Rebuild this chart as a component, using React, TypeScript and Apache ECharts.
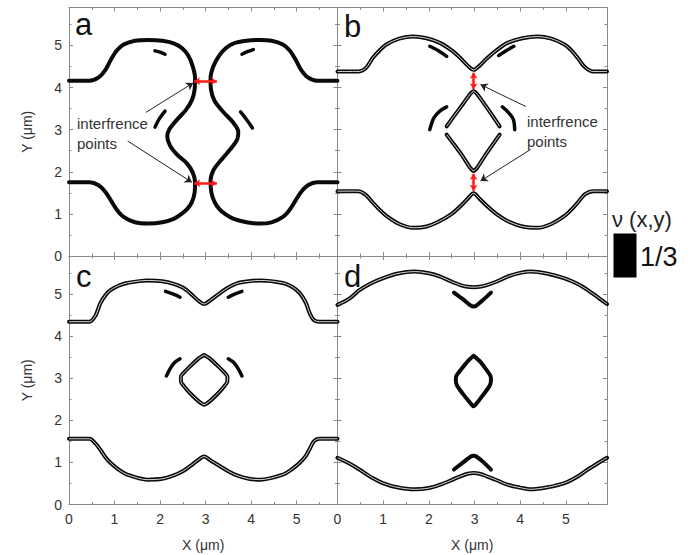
import React, { useEffect, useRef } from "react";
import * as echarts from "echarts";

// ---------- data (µm) ----------
const X_TICKS = [0, 1, 2, 3, 4, 5];
const Y_TICKS = [0, 1, 2, 3, 4, 5];
const PANEL_LABELS = ["a", "b", "c", "d"];

// panel a
const A_LEFT = [
  [0, 4.16], [0.45, 4.16], [0.65, 4.24], [0.8, 4.42], [0.92, 4.66], [1.05, 4.88], [1.2, 5.02], [1.45, 5.11],
  [1.75, 5.13], [2.05, 5.11], [2.3, 5.05], [2.48, 4.94], [2.62, 4.76], [2.72, 4.5], [2.77, 4.22], [2.76, 3.95],
  [2.7, 3.7], [2.57, 3.47], [2.36, 3.22], [2.2, 3.0], [2.16, 2.84], [2.22, 2.62], [2.38, 2.4], [2.59, 2.2],
  [2.72, 1.98], [2.77, 1.75], [2.76, 1.5], [2.7, 1.28], [2.6, 1.12], [2.45, 0.98], [2.3, 0.88], [2.05, 0.8],
  [1.75, 0.77], [1.45, 0.8], [1.2, 0.93], [1.05, 1.1], [0.92, 1.32], [0.8, 1.52], [0.65, 1.68], [0.45, 1.75], [0, 1.75],
];
const A_RIGHT = [
  [5.9, 4.16], [5.45, 4.16], [5.25, 4.24], [5.1, 4.42], [4.98, 4.66], [4.85, 4.88], [4.7, 5.02], [4.45, 5.11],
  [4.2, 5.13], [3.9, 5.11], [3.62, 5.05], [3.45, 4.94], [3.3, 4.76], [3.17, 4.5], [3.11, 4.22], [3.12, 3.95],
  [3.2, 3.68], [3.39, 3.42], [3.6, 3.18], [3.72, 2.95], [3.7, 2.78], [3.58, 2.58], [3.36, 2.3], [3.18, 2.05],
  [3.11, 1.78], [3.13, 1.5], [3.2, 1.28], [3.3, 1.12], [3.45, 0.98], [3.62, 0.88], [3.9, 0.8], [4.2, 0.77],
  [4.45, 0.8], [4.7, 0.93], [4.85, 1.1], [4.98, 1.32], [5.1, 1.52], [5.25, 1.68], [5.45, 1.75], [5.9, 1.75],
];
const A_DASHES = [
  [[1.89, 4.87], [2.0, 4.84], [2.11, 4.79]],
  [[3.8, 4.79], [3.92, 4.85], [4.05, 4.9]],
  [[1.89, 3.06], [1.98, 3.25], [2.11, 3.44]],
  [[3.77, 3.42], [3.9, 3.24], [4.03, 3.04]],
];
const A_RED = [
  [[2.75, 4.15], [3.25, 4.15]],
  [[2.75, 1.73], [3.25, 1.73]],
];
const A_POINTERS = [
  [[1.69, 3.41], [2.73, 4.11]],
  [[1.29, 2.73], [2.7, 1.75]],
];

// panel b
const B_TOP = [
  [0, 4.38], [0.45, 4.38], [0.62, 4.46], [0.77, 4.7], [0.92, 4.88], [1.07, 5.02], [1.35, 5.16], [1.66, 5.21],
  [1.95, 5.17], [2.24, 5.06], [2.5, 4.88], [2.69, 4.7], [2.85, 4.52], [2.98, 4.42], [3.11, 4.52], [3.28, 4.7],
  [3.5, 4.9], [3.72, 5.06], [4.05, 5.17], [4.38, 5.21], [4.68, 5.16], [4.97, 5.02], [5.12, 4.88], [5.26, 4.7],
  [5.42, 4.48], [5.6, 4.38], [5.9, 4.38],
];
const B_BOT = [
  [0, 1.54], [0.45, 1.54], [0.62, 1.45], [0.77, 1.27], [0.92, 1.1], [1.07, 0.95], [1.35, 0.76], [1.66, 0.67],
  [1.95, 0.7], [2.24, 0.83], [2.5, 1.0], [2.69, 1.18], [2.85, 1.36], [2.98, 1.49], [3.11, 1.36], [3.28, 1.18],
  [3.5, 0.98], [3.72, 0.83], [4.05, 0.7], [4.38, 0.67], [4.68, 0.76], [4.97, 0.95], [5.12, 1.1], [5.26, 1.27],
  [5.42, 1.47], [5.6, 1.54], [5.9, 1.54],
];
const B_DIAMOND_UP = [
  [2.39, 3.08], [2.55, 3.32], [2.72, 3.57], [2.9, 3.84], [2.98, 3.91], [3.06, 3.84], [3.24, 3.57], [3.4, 3.32], [3.55, 3.08],
];
const B_DIAMOND_DN = [
  [2.39, 2.88], [2.55, 2.65], [2.72, 2.4], [2.9, 2.1], [2.98, 2.02], [3.06, 2.1], [3.24, 2.4], [3.4, 2.65], [3.55, 2.88],
];
const B_DASHES = [
  [[2.02, 3.0], [2.11, 3.28], [2.24, 3.44], [2.39, 3.54]],
  [[3.61, 3.54], [3.75, 3.4], [3.85, 3.24], [3.88, 3.0]],
  [[2.02, 4.98], [2.2, 4.88], [2.39, 4.74]],
  [[3.53, 4.76], [3.7, 4.88], [3.86, 4.98]],
];
const B_RED = [
  [[2.98, 4.35], [2.98, 3.96]],
  [[2.98, 1.95], [2.98, 1.55]],
];
const B_POINTERS = [
  [[4.12, 3.55], [3.13, 4.07]],
  [[4.23, 2.53], [3.13, 1.78]],
];

// panel c
const C_TOP = [
  [0, 4.34], [0.45, 4.34], [0.58, 4.48], [0.69, 4.78], [0.8, 4.97], [0.91, 5.09], [1.1, 5.2], [1.28, 5.26],
  [1.72, 5.32], [2.05, 5.3], [2.3, 5.24], [2.5, 5.15], [2.66, 5.02], [2.82, 4.86], [2.97, 4.76], [3.12, 4.86],
  [3.32, 5.02], [3.5, 5.15], [3.69, 5.25], [3.95, 5.3], [4.2, 5.32], [4.7, 5.26], [4.9, 5.17], [5.07, 5.02],
  [5.2, 4.8], [5.29, 4.54], [5.38, 4.38], [5.5, 4.34], [5.9, 4.34],
];
const C_BOT = [
  [0, 1.56], [0.45, 1.56], [0.58, 1.45], [0.69, 1.3], [0.8, 1.12], [0.91, 0.99], [1.1, 0.82], [1.28, 0.71],
  [1.72, 0.59], [2.05, 0.61], [2.3, 0.69], [2.5, 0.79], [2.66, 0.91], [2.82, 1.04], [2.97, 1.14], [3.12, 1.04],
  [3.32, 0.91], [3.5, 0.79], [3.69, 0.69], [3.95, 0.61], [4.2, 0.59], [4.7, 0.71], [4.9, 0.84], [5.07, 0.99],
  [5.2, 1.15], [5.29, 1.32], [5.38, 1.5], [5.5, 1.56], [5.9, 1.56],
];
const C_DIAMOND = [
  [2.97, 3.55], [2.85, 3.47], [2.7, 3.32], [2.55, 3.16], [2.46, 3.04], [2.46, 2.92], [2.55, 2.78], [2.7, 2.6],
  [2.85, 2.45], [2.97, 2.37], [3.09, 2.45], [3.24, 2.6], [3.39, 2.78], [3.48, 2.92], [3.48, 3.04], [3.39, 3.16],
  [3.24, 3.32], [3.09, 3.47], [2.97, 3.55],
];
const C_DASHES = [
  [[2.14, 3.05], [2.22, 3.22], [2.32, 3.37], [2.44, 3.46]],
  [[3.5, 3.46], [3.62, 3.37], [3.72, 3.22], [3.8, 3.05]],
  [[2.12, 5.06], [2.28, 5.0], [2.44, 4.92]],
  [[3.5, 4.92], [3.65, 5.0], [3.8, 5.06]],
];

// panel d
const D_TOP = [
  [0, 4.74], [0.25, 4.88], [0.48, 5.09], [0.75, 5.26], [0.99, 5.37], [1.3, 5.48], [1.69, 5.53], [2.0, 5.49],
  [2.25, 5.41], [2.5, 5.29], [2.69, 5.21], [2.85, 5.17], [2.98, 5.16], [3.11, 5.17], [3.27, 5.21], [3.5, 5.3],
  [3.72, 5.41], [4.0, 5.5], [4.23, 5.53], [4.6, 5.48], [4.97, 5.37], [5.25, 5.24], [5.48, 5.09], [5.7, 4.92], [5.9, 4.76],
];
const D_BOT = [
  [0, 1.11], [0.25, 0.98], [0.48, 0.83], [0.75, 0.64], [0.99, 0.51], [1.3, 0.41], [1.69, 0.36], [2.0, 0.39],
  [2.25, 0.47], [2.5, 0.58], [2.69, 0.67], [2.85, 0.73], [2.98, 0.75], [3.11, 0.73], [3.27, 0.67], [3.5, 0.57],
  [3.72, 0.47], [4.0, 0.4], [4.23, 0.36], [4.6, 0.41], [4.97, 0.51], [5.25, 0.66], [5.48, 0.83], [5.7, 0.98], [5.9, 1.11],
];
const D_V = [[2.55, 5.03], [2.75, 4.87], [2.92, 4.72], [2.98, 4.7], [3.04, 4.72], [3.2, 4.87], [3.36, 5.03]];
const D_OVAL = [
  [2.98, 3.53], [2.85, 3.4], [2.7, 3.2], [2.6, 3.05], [2.59, 2.95], [2.62, 2.82], [2.75, 2.62], [2.9, 2.42],
  [2.98, 2.33], [3.06, 2.42], [3.2, 2.62], [3.33, 2.82], [3.36, 2.95], [3.35, 3.05], [3.26, 3.2], [3.12, 3.4], [2.98, 3.53],
];
const D_A = [[2.55, 0.83], [2.75, 1.0], [2.92, 1.14], [2.98, 1.16], [3.04, 1.14], [3.2, 1.0], [3.36, 0.83]];

// ---------- layout ----------
const X_MAX = 5.9;
const Y_MAX = 5.9;
const FONT = "'Liberation Sans', Arial, Helvetica, sans-serif";
const FRAME = "#8a8a8a";
const GRIDS = [
  { left: 69, top: 7.5, width: 268.5, height: 248.5 },
  { left: 337.5, top: 7.5, width: 269.5, height: 248.5 },
  { left: 69, top: 256, width: 268.5, height: 248.5 },
  { left: 337.5, top: 256, width: 269.5, height: 248.5 },
];

function axisBase(max: number, showLabel: boolean) {
  return {
    type: "value",
    min: 0,
    max,
    interval: 1,
    axisLine: { show: true, onZero: false, lineStyle: { color: FRAME, width: 1 } },
    axisTick: { show: true, inside: true, length: 4, lineStyle: { color: FRAME } },
    minorTick: { show: true, splitNumber: 2, length: 2.5, lineStyle: { color: FRAME } },
    splitLine: { show: false },
    minorSplitLine: { show: false },
    axisLabel: {
      show: showLabel,
      color: "#333",
      fontSize: 14,
      fontFamily: FONT,
      showMaxLabel: false,
      margin: 7,
      formatter: (v: number) => (X_TICKS.includes(v) || Y_TICKS.includes(v) ? String(v) : ""),
    },
  };
}

export default function App() {
  const ref = useRef<HTMLDivElement>(null);
  useEffect(() => {
    if (!ref.current) return;
    const chart = echarts.init(ref.current, undefined, { renderer: "svg" });

    const xAxis: any[] = [];
    const yAxis: any[] = [];
    GRIDS.forEach((_, g) => {
      const bottomLabels = g >= 2;
      const leftLabels = g % 2 === 0;
      xAxis.push({
        ...axisBase(X_MAX, bottomLabels),
        gridIndex: g,
        position: "bottom",
        name: bottomLabels ? "X (\u03bcm)" : "",
        nameLocation: "middle",
        nameGap: 33,
        nameTextStyle: { color: "#333", fontSize: 14, fontFamily: FONT },
      });
      xAxis.push({ ...axisBase(X_MAX, false), gridIndex: g, position: "top" });
      yAxis.push({
        ...axisBase(Y_MAX, leftLabels),
        gridIndex: g,
        position: "left",
        name: leftLabels ? "Y (\u03bcm)" : "",
        nameLocation: "middle",
        nameGap: 35,
        nameRotate: 90,
        nameTextStyle: { color: "#333", fontSize: 14, fontFamily: FONT },
      });
      yAxis.push({ ...axisBase(Y_MAX, false), gridIndex: g, position: "right" });
    });

    const series: any[] = [];
    const curve = (g: number, data: number[][], hollow: boolean, width = 4, smooth: number | boolean = 0.3) => {
      series.push({
        type: "line",
        xAxisIndex: g * 2,
        yAxisIndex: g * 2,
        data,
        smooth,
        symbol: "none",
        silent: true,
        z: 2,
        lineStyle: { color: "#0a0a0a", width, cap: "round", join: "round" },
      });
      if (hollow) {
        series.push({
          type: "line",
          xAxisIndex: g * 2,
          yAxisIndex: g * 2,
          data,
          smooth,
          symbol: "none",
          silent: true,
          z: 3,
          lineStyle: { color: "#ffffff", width: 1, opacity: 0.85 },
        });
      }
    };
    const arrows = (g: number, segs: number[][][], color: string, width: number, sym: string[], size: number) => {
      series.push({
        type: "lines",
        coordinateSystem: "cartesian2d",
        xAxisIndex: g * 2,
        yAxisIndex: g * 2,
        symbol: sym,
        symbolSize: size,
        silent: true,
        z: 5,
        lineStyle: { color, width, opacity: 1, curveness: 0 },
        data: segs.map((s) => ({ coords: s })),
      });
    };

    // a
    curve(0, A_LEFT, false);
    curve(0, A_RIGHT, false);
    A_DASHES.forEach((d) => curve(0, d, false, 3.5));
    arrows(0, A_RED, "#ff1a1a", 2.5, ["arrow", "arrow"], 6);
    arrows(0, A_POINTERS, "#222", 1, ["none", "arrow"], 7);
    // b
    curve(1, B_TOP, true);
    curve(1, B_BOT, true);
    curve(1, B_DIAMOND_UP, true, 4, 0.15);
    curve(1, B_DIAMOND_DN, true, 4, 0.15);
    B_DASHES.forEach((d) => curve(1, d, false, 3.5));
    arrows(1, B_RED, "#ff1a1a", 2.5, ["arrow", "arrow"], 6);
    arrows(1, B_POINTERS, "#222", 1, ["none", "arrow"], 7);
    // c
    curve(2, C_TOP, true);
    curve(2, C_BOT, true);
    curve(2, C_DIAMOND, true, 4, 0.2);
    C_DASHES.forEach((d) => curve(2, d, false, 3.5));
    // d
    curve(3, D_TOP, true);
    curve(3, D_BOT, true);
    curve(3, D_V, false, 4, 0.2);
    curve(3, D_OVAL, false, 4, 0.25);
    curve(3, D_A, false, 4, 0.2);

    const letterPos = [
      [75, 24],
      [344, 26],
      [76, 276],
      [344, 276],
    ];
    const graphic: any[] = PANEL_LABELS.map((t, i) => ({
      type: "text",
      x: letterPos[i][0],
      y: letterPos[i][1],
      silent: true,
      style: { text: t, fontSize: 31, fontFamily: FONT, fill: "#111", verticalAlign: "middle", align: "left" },
    }));
    graphic.push(
      {
        type: "text",
        x: 77,
        y: 133,
        silent: true,
        style: { text: "interfrence\npoints", fontSize: 15, lineHeight: 20, fontFamily: FONT, fill: "#333", verticalAlign: "middle", align: "left" },
      },
      {
        type: "text",
        x: 527,
        y: 131,
        silent: true,
        style: { text: "interfrence\npoints", fontSize: 15, lineHeight: 20, fontFamily: FONT, fill: "#333", verticalAlign: "middle", align: "left" },
      },
      {
        type: "text",
        x: 612,
        y: 219,
        silent: true,
        style: { text: "\u03bd (x,y)", fontSize: 22, fontFamily: FONT, fill: "#222", verticalAlign: "middle", align: "left" },
      },
      {
        type: "rect",
        silent: true,
        shape: { x: 613.5, y: 233.5, width: 23, height: 44 },
        style: { fill: "#000" },
      },
      {
        type: "text",
        x: 640,
        y: 257,
        silent: true,
        style: { text: "1/3", fontSize: 27, fontFamily: FONT, fill: "#111", verticalAlign: "middle", align: "left" },
      }
    );

    chart.setOption({
      animation: false,
      backgroundColor: "#ffffff",
      grid: GRIDS.map((g) => ({ ...g, containLabel: false })),
      xAxis,
      yAxis,
      series,
      graphic,
    });
    return () => chart.dispose();
  }, []);

  return (
    <div
      ref={ref}
      style={{ position: "fixed", left: 0, top: 0, width: 695, height: 555, background: "#fff" }}
    />
  );
}
